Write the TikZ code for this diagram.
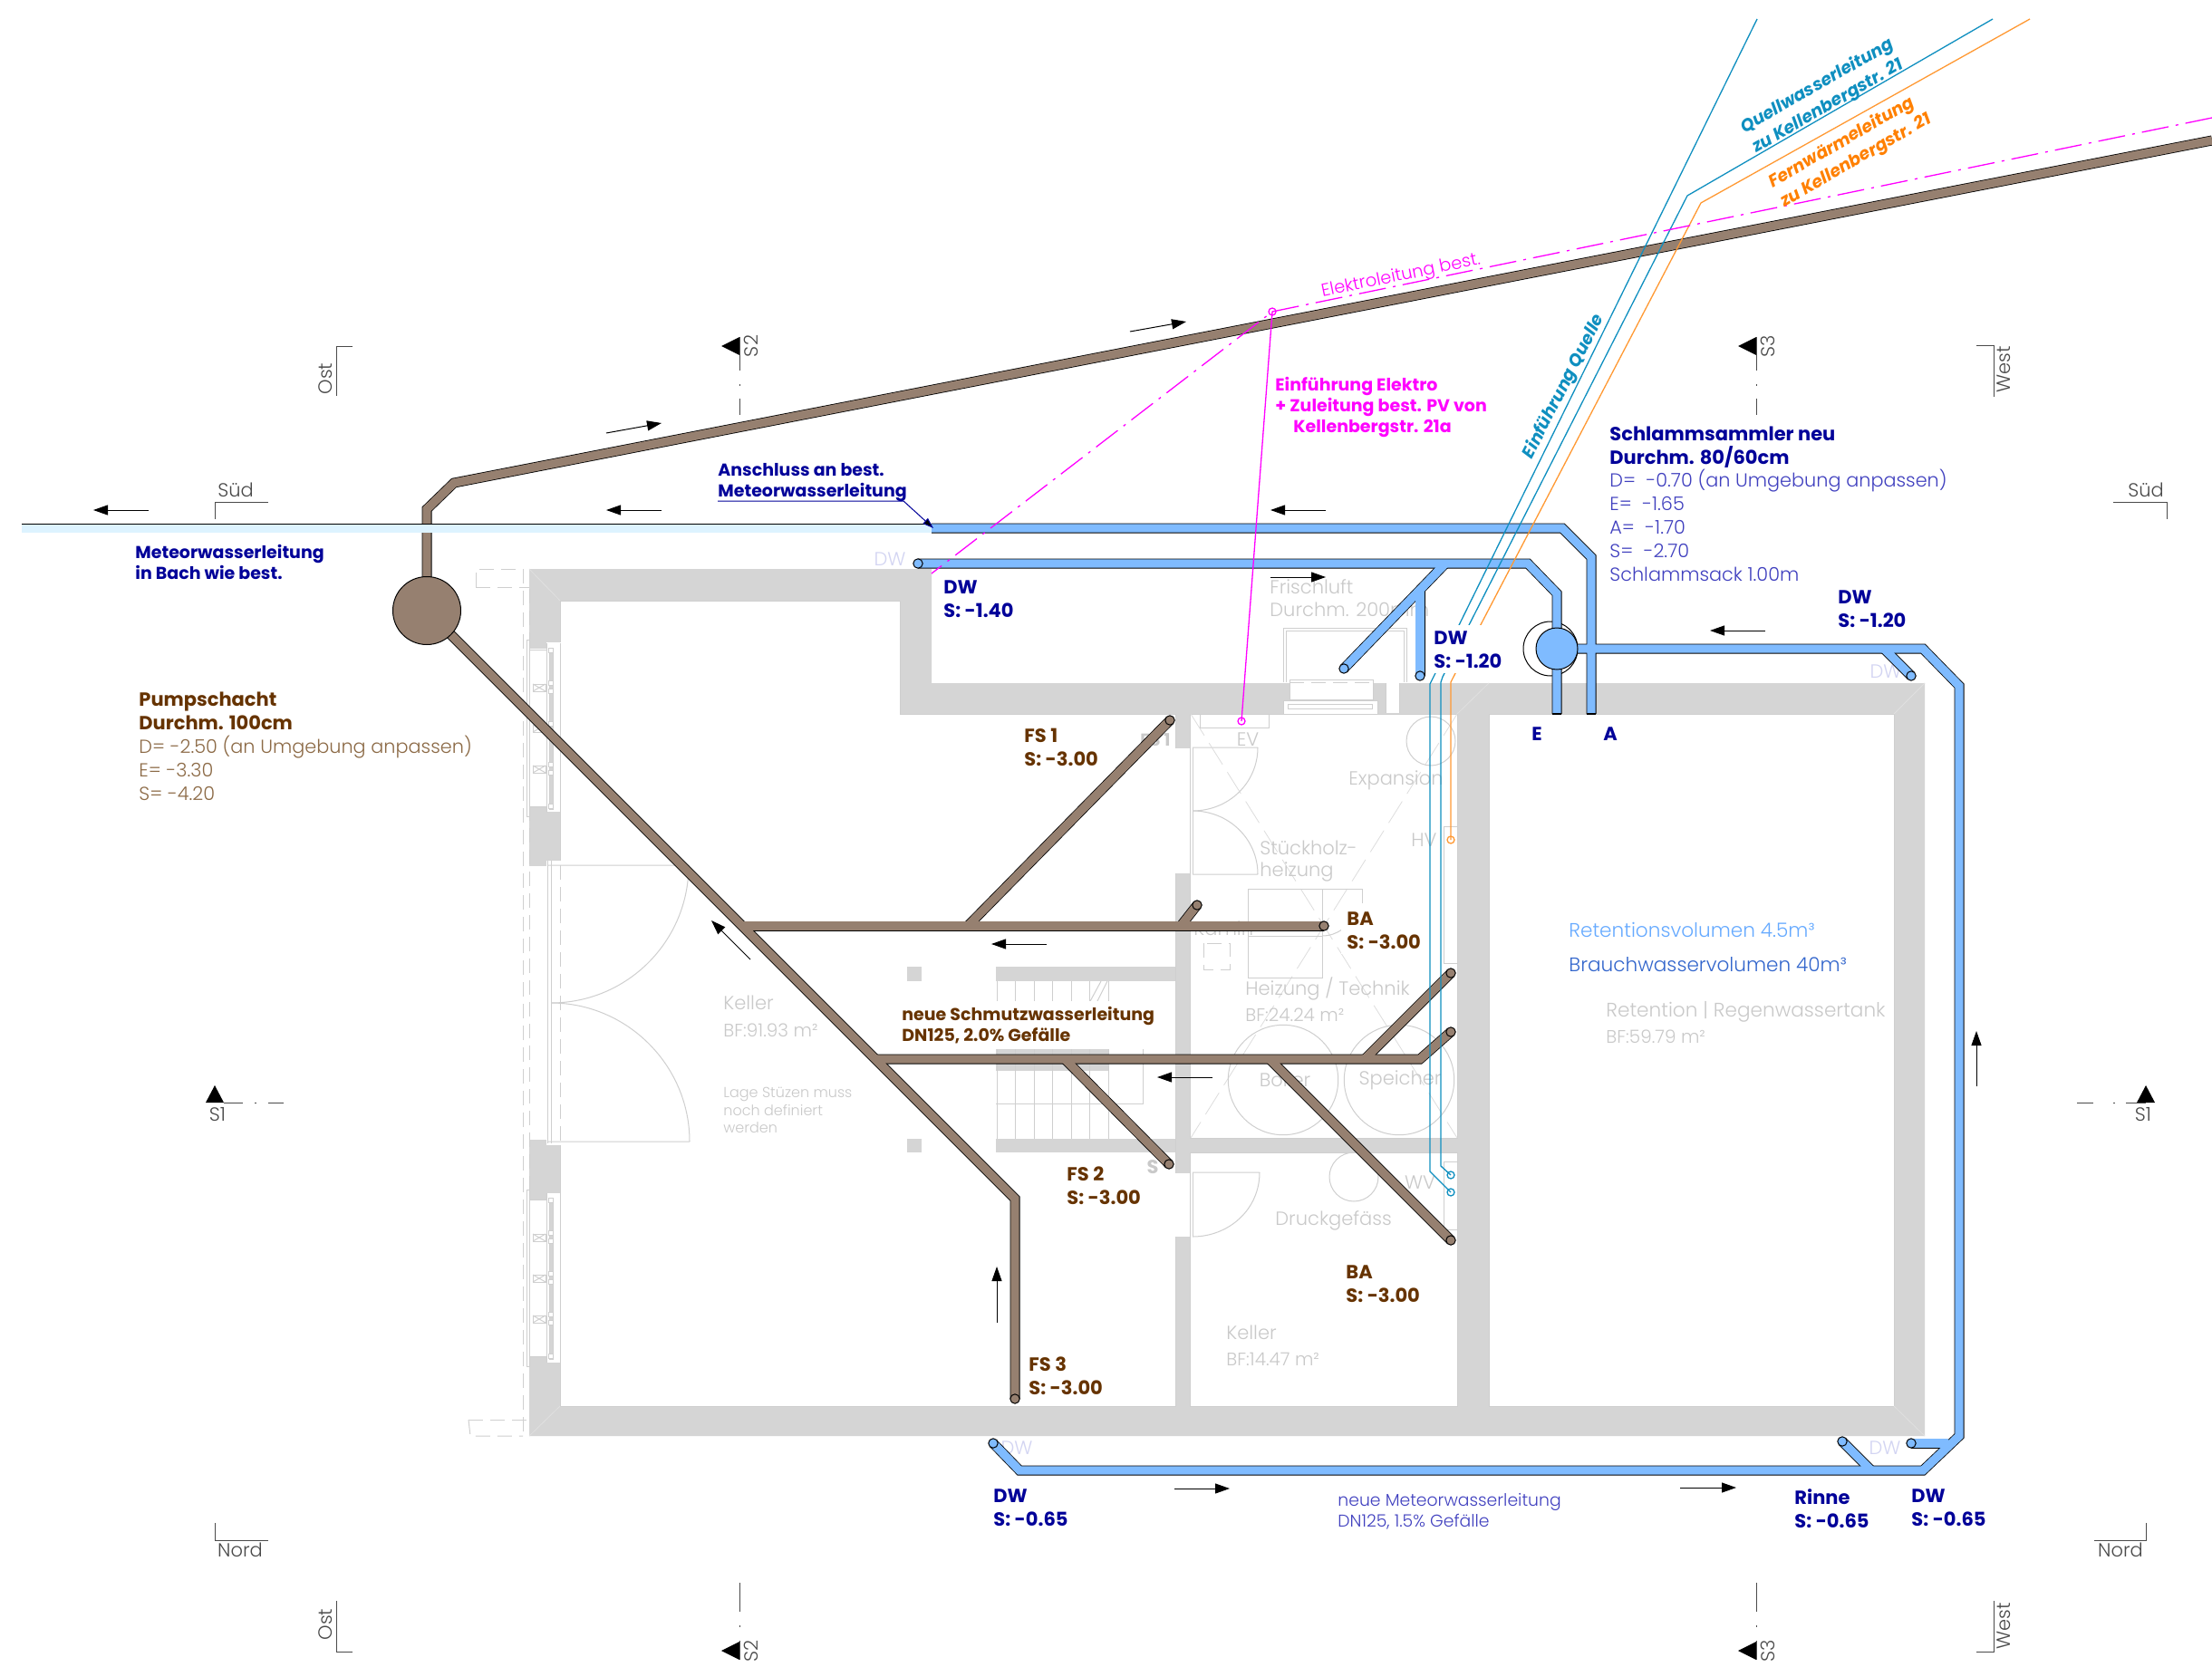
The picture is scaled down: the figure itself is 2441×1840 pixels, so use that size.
\documentclass[tikz,border=0pt]{standalone}
\usepackage{fontspec}
\setmainfont{Poppins Light}[BoldFont={Poppins Bold},ItalicFont={Poppins Light Italic},BoldItalicFont={Poppins Bold Italic}]
\usetikzlibrary{arrows.meta}
\definecolor{wall}{HTML}{D5D5D5}
\definecolor{fineg}{HTML}{CFCFCF}
\definecolor{txtg}{HTML}{C9C9C9}
\definecolor{pbrown}{HTML}{968070}
\definecolor{pblue}{HTML}{7FBBFF}
\definecolor{pband}{HTML}{DDF3FF}
\definecolor{navy}{HTML}{000099}
\definecolor{violet}{HTML}{4040BF}
\definecolor{dbrown}{HTML}{663300}
\definecolor{lbrown}{HTML}{8C6A46}
\definecolor{teal}{HTML}{0F8FC0}
\definecolor{orng}{HTML}{FF9933}
\definecolor{orngt}{HTML}{FF8000}
\definecolor{magt}{HTML}{FF00FF}
\definecolor{lav}{HTML}{D2D4F2}
\definecolor{secg}{HTML}{4A4A4A}
\definecolor{retblue}{HTML}{66AAFF}
\definecolor{brblue}{HTML}{3366CC}
\newcommand{\quartarc}[6]{(#1,#2) .. controls (#3) and (#4) .. (#5,#6)}
\newcommand{\fz}[1]{\fontsize{#1}{13}\selectfont}
\tikzset{
  fine/.style={draw=fineg,line width=0.5pt},
  fined/.style={draw=fineg,line width=0.5pt,dash pattern=on 8pt off 4pt},
  casebrown/.style={draw=black,line width=5.5pt},
  fillbrown/.style={draw=pbrown,line width=4.7pt},
  caseblue/.style={draw=black,line width=5.5pt},
  fillblue/.style={draw=pblue,line width=4.7pt},
  endbrown/.style={draw=black,fill=pbrown,line width=0.5pt},
  endblue/.style={draw=black,fill=pblue,line width=0.5pt},
  flow/.style={draw=black,line width=0.5pt,-{Triangle[length=8pt,width=5.5pt]}},
  sec/.style={draw=secg,line width=0.5pt},
  sectxt/.style={text=secg,inner sep=0,font=\fz{10.5}},
  lbl/.style={inner sep=0,anchor=north west,align=left,font=\fz{10.5}\bfseries},
  lbls/.style={inner sep=0,anchor=north west,align=left,font=\fontsize{9.5}{11.5}\selectfont\bfseries},
  thin lbl/.style={inner sep=0,anchor=north west,align=left,font=\fz{10.4}},
  gtx/.style={inner sep=0,text=txtg,align=left,font=\fz{10.5}},
  masked/.style={fill=white,inner sep=3pt},
  srcl/.style={draw=teal,line width=0.65pt},
  orgl/.style={draw=orng,line width=0.65pt},
  magl/.style={draw=magt,line width=0.65pt},
}
\begin{document}
\begin{tikzpicture}[x=0.5pt,y=-0.5pt]
\useasboundingbox (0,0) rectangle (2441,1840);
\fill[white] (0,0) rectangle (2441,1840);

% ---- walls
\fill[wall] (584,628) -- (1028,628) -- (1028,754) -- (2124,754) -- (2124,1585) -- (584,1585) -- cycle;
\filldraw[fill=white,draw=fineg,line width=0.5pt] (618,663) -- (993,663) -- (993,788) -- (1297,788) -- (1297,1552) -- (618,1552) -- cycle;
\filldraw[fill=white,draw=fineg,line width=0.5pt] (1313,788) rectangle (1608,1256);
\filldraw[fill=white,draw=fineg,line width=0.5pt] (1313,1272) rectangle (1608,1552);
\filldraw[fill=white,draw=fineg,line width=0.5pt] (1643,788) rectangle (2090,1552);
\fill[white] (1296,826) rectangle (1314,964);
\fill[white] (1296,1295) rectangle (1314,1365);
\fill[wall] (1099,1067) rectangle (1297,1083);
\fill[wall] (1099,1257) rectangle (1297,1272);
\fill[wall] (1099,1158) rectangle (1223,1182);
\fill[wall] (1001,1067) rectangle (1017,1083);
\fill[wall] (1001,1257) rectangle (1017,1272);
\draw[draw=white!88!black,line width=0.4pt] (584,628) -- (618,663) (584,1585) -- (618,1552) (2124,754) -- (2090,788) (2124,1585) -- (2090,1552) (1608,788) -- (1643,754);
% openings in the left wall
\fill[white] (584,716) rectangle (603,890);
\fill[white] (603,709) rectangle (618.5,896);
\fill[white] (584,956) rectangle (603,1258);
\fill[white] (603,950) rectangle (618.5,1264);
\fill[white] (584,1324) rectangle (603,1497);
\fill[white] (603,1317) rectangle (618.5,1504);

% ---- window details
\foreach \dy in {0,-607}{
  \draw[fine] (581,{1313+\dy}) rectangle (584,{1508+\dy});
  \draw[fine] (603,{1317+\dy}) -- (603,{1504+\dy}) (618,{1317+\dy}) -- (618,{1504+\dy});
  \draw[fine] (584,{1324+\dy}) -- (603,{1324+\dy}) (584,{1497+\dy}) -- (603,{1497+\dy});
  \filldraw[fill=wall,draw=fineg,line width=0.4pt] (606,{1322+\dy}) rectangle (610,{1500+\dy});
  \foreach \yy in {1362,1407,1452}{
    \draw[fine] (588,{\yy+\dy}) rectangle (602,{\yy+8+\dy});
    \draw[fine] (588,{\yy+\dy}) -- (602,{\yy+8+\dy}) (588,{\yy+8+\dy}) -- (602,{\yy+\dy});
  }
  \foreach \yy in {1322,1358,1367,1403,1412,1448,1457,1494}{
    \filldraw[fill=white,draw=fineg,line width=0.4pt] (605,{\yy+\dy}) rectangle (610,{\yy+5+\dy});
  }
}
% dashed outlines
\draw[fined] (525,648) -- (525,628) -- (577,628);
\draw[fined] (525,648) -- (584,648);
\draw[fined] (577,628) -- (577,1585);
\draw[fined] (584,650) -- (584,1320);
\draw[fined] (517,1567) -- (519,1585) -- (577,1585);
\draw[fined] (517,1567) -- (584,1567);
\draw[fined] (618,955) -- (618,1260);

% double door, left
\draw[fine] (604,950) -- (604,1262) (608,950) -- (608,1262);
\draw[fine] (604,955) -- (760,955) \quartarc{760}{955}{760,1039}{692,1107}{608}{1107};
\draw[fine] (604,1260) -- (761,1260) \quartarc{761}{1260}{761,1176}{692,1107}{608}{1107};
% double door, technik
\draw[fine] (1313,825) -- (1313,965) (1316,825) -- (1316,965);
\draw[fine] (1316,825) -- (1388,825) \quartarc{1388}{825}{1388,864}{1356,895}{1316}{895};
\draw[fine] (1316,965) -- (1388,965) \quartarc{1388}{965}{1388,926}{1356,895}{1316}{895};
% door, lower room
\draw[fine] (1313,1294) -- (1313,1365) (1316,1294) -- (1316,1365);
\draw[fine] (1316,1294) -- (1390,1294) \quartarc{1390}{1294}{1390,1335}{1356,1365}{1316}{1365};

% stairs
\foreach \xx in {1100,1120,1141,1161,1182,1202,1223}{\draw[fine] (\xx,1083) -- (\xx,1257);}
\draw[fine] (1099,1218) -- (1261,1218) -- (1261,1153);
\draw[fine] (1202,1107) -- (1215,1083) (1210,1107) -- (1222,1083);

% technik room fixtures
\draw[fineg!70,line width=0.4pt,dash pattern=on 14pt off 5pt] (1314,788) -- (1608,1256) (1608,788) -- (1314,1256);
\draw[fine] (1377,981) rectangle (1459,1079);
\draw[fine] (1377,1033) -- (1459,1033) (1459,981) -- (1503,981) -- (1503,997);
\draw[fine] (1459,1033) .. controls (1468,1033) and (1475,1030) .. (1481,1026);
\draw[fined] (1328,1041) rectangle (1357,1070);
\draw[fine] (1416,1192) circle[radius=60.7];
\draw[fine] (1544,1192) circle[radius=60.7];
\draw[fine] (1494,1299) circle[radius=27];
\draw[fine] (1579,818) circle[radius=27];
\draw[fine] (1608,912) -- (1593,912) -- (1593,1063) -- (1608,1063);
\draw[fine] (1608,1282) -- (1593,1282) -- (1593,1357) -- (1608,1357);
% air intake
\draw[fine] (1416,753) -- (1416,693) -- (1552,693) -- (1552,753) (1419,753) -- (1419,696) -- (1549,696) -- (1549,753);
\filldraw[fill=white,draw=fineg,line width=0.4pt] (1423,750) rectangle (1515,772);
\draw[fined,draw=fineg] (1423,753) -- (1515,753);
\filldraw[fill=white,draw=fineg,line width=0.4pt] (1416,773) rectangle (1520,788);
\draw[fine] (1421,777) rectangle (1514,782);
\fill[white] (1529,754) rectangle (1544,787);
\draw[fine] (1529,754) -- (1529,787) (1544,754) -- (1544,787);
\draw[fine] (1324,788) -- (1324,803) -- (1400,803) -- (1400,788);

% grey room texts
\node[gtx,anchor=west] (tkeller) at (798,1107) {Keller};
\node[gtx,anchor=west,font=\fz{10}] (tkellerbf) at (798,1137) {BF:91.93 m²};
\node[gtx,anchor=north west,font=\fontsize{8}{9.6}\selectfont] (tstuetz) at (798,1200) {Lage Stüzen muss\\noch definiert\\werden};
\node[gtx,anchor=west] (tfrisch) at (1401,648) {Frischluft};
\node[gtx,anchor=west] (tfrisch2) at (1401,673) {Durchm. 200mm};
\node[gtx] (tev) at (1377,816) {EV};
\node[gtx,anchor=west] (texp) at (1488,861) {Expansion};
\node[gtx,anchor=west] (tsth) at (1390,936) {Stückholz-};
\node[gtx,anchor=west] (tsth2) at (1390,962) {heizung};
\node[gtx,anchor=west] (thv) at (1557,927) {HV};
\node[gtx,anchor=west] (tkamin) at (1317,1025) {Kamin};
\node[gtx,anchor=west] (theiz) at (1374,1091) {Heizung / Technik};
\node[gtx,anchor=west,font=\fz{10}] (theizbf) at (1374,1120) {BF:24.24 m²};
\node[gtx] (tboiler) at (1418,1192) {Boiler};
\node[gtx] (tspeicher) at (1545,1192) {Speicher};
\node[gtx] (twv) at (1567,1305) {WV};
\node[gtx,anchor=west] (tdruck) at (1407,1347) {Druckgefäss};
\node[gtx,anchor=west] (tkeller2) at (1353,1471) {Keller};
\node[gtx,anchor=west,font=\fz{10}] (tkeller2bf) at (1353,1500) {BF:14.47 m²};
\node[gtx,anchor=west,font=\fz{10.8}] (tret) at (1772,1117) {Retention | Regenwassertank};
\node[gtx,anchor=west,font=\fz{10}] (tretbf) at (1772,1144) {BF:59.79 m²};
\node[gtx,font=\fz{9.5}\bfseries] (tgfs1) at (1275,817) {FS 1};
\node[gtx,font=\fz{10.5}\bfseries] (tgs) at (1272,1288) {S};
\node[gtx,text=lav] (tdw1) at (982,617) {DW};
\node[gtx,text=lav] (tdw2) at (2081,741) {DW};
\node[gtx,text=lav] (tdw3) at (2080,1598) {DW};
\node[gtx,text=lav] (tdw4) at (1122,1598) {DW};

% ---- section marks
\draw[sec] (389,383) -- (371,383) -- (371,437);
\node[sectxt,rotate=90] (ost1) at (359,418) {Ost};
\draw[sec] (371,1767) -- (371,1823) -- (389,1823);
\node[sectxt,rotate=90] (ost2) at (359,1793) {Ost};
\draw[sec] (2181,382) -- (2200,382) -- (2200,438);
\node[sectxt,rotate=90] (west1) at (2211,408) {West};
\draw[sec] (2200,1767) -- (2200,1823) -- (2181,1823);
\node[sectxt,rotate=90] (west2) at (2211,1795) {West};
\draw[sec] (237,573) -- (237,554) -- (296,554);
\node[sectxt] (sued1) at (260,541) {Süd};
\draw[sec] (2332,554) -- (2391,554) -- (2391,573);
\node[sectxt] (sued2) at (2368,541) {Süd};
\draw[sec] (237,1681) -- (237,1700) -- (296,1700);
\node[sectxt] (nord1) at (265,1711) {Nord};
\draw[sec] (2368,1681) -- (2368,1700) -- (2311,1700);
\node[sectxt] (nord2) at (2340,1711) {Nord};
% S2, S3 top and bottom
\foreach \xs/\nm in {816/S2,1938/S3}{
  \fill[black] (\xs,372) -- (\xs-20,382) -- (\xs,392) -- cycle;
  \draw[sec] (\xs,372) -- (\xs,409) (\xs,424) -- (\xs,426) (\xs,440) -- (\xs,458);
  \node[sectxt,rotate=90,anchor=center] at (\xs+13,382) {\nm};
  \fill[black] (\xs,1812) -- (\xs-20,1822) -- (\xs,1832) -- cycle;
  \draw[sec] (\xs,1747) -- (\xs,1779) (\xs,1794) -- (\xs,1796) (\xs,1811) -- (\xs,1832);
  \node[sectxt,rotate=90,anchor=center] at (\xs+13,1822) {\nm};
}
% S1
\fill[black] (227,1217) -- (237,1198) -- (247,1217) -- cycle;
\draw[sec] (247,1217) -- (268,1217) (281,1217) -- (283,1217) (296,1217) -- (313,1217);
\node[sectxt] (s1a) at (240,1230) {S1};
\fill[black] (2358,1217) -- (2368,1198) -- (2378,1217) -- cycle;
\draw[sec] (2292,1217) -- (2310,1217) (2332,1217) -- (2334,1217) (2346,1217) -- (2368,1217);
\node[sectxt] (s1b) at (2365,1230) {S1};

% ---- brown pipes
\foreach \sty in {casebrown,fillbrown}{
  \draw[\sty] (2441,155) -- (501,533) -- (471,562) -- (471,674);
  \draw[\sty] (471,674) -- (1120,1323) -- (1120,1544);
  \draw[\sty] (819,1022) -- (1461,1022);
  \draw[\sty] (1068,1022) -- (1291,795);
  \draw[\sty] (1303,1022) -- (1321,999);
  \draw[\sty] (966,1169) -- (1567,1169) -- (1601,1139);
  \draw[\sty] (1506,1169) -- (1601,1074);
  \draw[\sty] (1401,1169) -- (1601,1369);
  \draw[\sty] (1175,1169) -- (1290,1285);
}
\filldraw[endbrown] (471,674) circle[radius=37.5];
\foreach \ex/\ey in {1461/1022,1291/795,1321/999,1601/1139,1601/1074,1601/1369,1290/1285,1120/1544}{
  \filldraw[endbrown] (\ex,\ey) circle[radius=5.2];
}

% ---- existing brook line
\draw[draw=black,line width=5.2pt] (24,583) -- (1030,583);
\draw[draw=pband,line width=4.5pt] (24,583) -- (1030,583);

% ---- blue pipes
\filldraw[fill=white,draw=black,line width=0.5pt] (1711,716) circle[radius=30];
\foreach \sty in {caseblue,fillblue}{
  \draw[\sty] (1028,583) -- (1724,583) -- (1756,615) -- (1756,788);
  \draw[\sty] (1013,622) -- (1686,622) -- (1718,655) -- (1718,788);
  \draw[\sty] (1595,622) -- (1483,738);
  \draw[\sty] (1567,650) -- (1567,746);
  \draw[\sty] (1728,716) -- (2122,716) -- (2162,757) -- (2162,1585) -- (2122,1623) -- (1125,1623) -- (1096,1593);
  \draw[\sty] (2079,716) -- (2109,746);
  \draw[\sty] (2065,1623) -- (2033,1591);
  \draw[\sty] (2150,1593) -- (2109,1593);
}
\draw[black,line width=0.6pt] (1713,788) -- (1723,788) (1751,788) -- (1761,788);
\filldraw[endblue] (1718,716) circle[radius=23];
\foreach \ex/\ey in {1013/622,1483/738,1567/746,2109/746,1096/1593,2033/1591,2109/1593}{
  \filldraw[endblue] (\ex,\ey) circle[radius=5.2];
}

% ---- source and district heat lines
\draw[srcl] (1939,21) -- (1582,747) -- (1578,755) -- (1578,1293) -- (1601,1316);
\draw[srcl] (2199,21) -- (1862,216) -- (1592,747) -- (1590,753) -- (1590,1287) -- (1601,1297);
\draw[orgl] (2240,21) -- (1877,224) -- (1604,747) -- (1601,753) -- (1601,927);
\draw[teal,line width=0.65pt] (1601,1316) circle[radius=4] (1601,1297) circle[radius=4];
\draw[orng,line width=0.65pt] (1601,927) circle[radius=4];

% ---- electric
\draw[magl,dash pattern=on 15pt off 4pt on 1.5pt off 4pt] (2441,130) -- (1404,344) -- (1028,633);
\draw[magl] (1404,344) -- (1370,796);
\draw[magl] (1404,344) circle[radius=4] (1370,796) circle[radius=4];

% ---- flow arrows
\draw[flow] (164,563) -- (103,563);
\draw[flow] (730,563) -- (669,563);
\draw[flow] (1463,563) -- (1402,563);
\draw[flow] (1402,637) -- (1463,637);
\draw[flow] (1948,696) -- (1887,696);
\draw[flow] (669,478) -- (730,467);
\draw[flow] (1247,366) -- (1309,355);
\draw[flow] (1155,1042) -- (1094,1042);
\draw[flow] (1338,1189) -- (1277,1189);
\draw[flow] (828,1059) -- (785,1016);
\draw[flow] (1100,1460) -- (1100,1398);
\draw[flow] (1296,1643) -- (1357,1643);
\draw[flow] (1854,1642) -- (1916,1642);
\draw[flow] (2181,1199) -- (2181,1138);

% ---- labels
\node[thin lbl,text=magt,rotate=11.5,font=\fz{9.7},anchor=center] (lelek) at (1546,305) {Elektroleitung best.};
\node[lbls,text=magt] (leinf) at (1407,416) {Einführung Elektro\\+ Zuleitung best. PV von\\\hspace*{10pt}Kellenbergstr. 21a};
\node[lbls,text=teal,font=\fontsize{9.5}{12.5}\selectfont\bfseries\itshape,rotate=30,anchor=west] (lquell) at (1929,154) {Quellwasserleitung\\zu Kellenbergstr. 21};
\node[lbls,text=orngt,font=\fontsize{9.5}{12.5}\selectfont\bfseries\itshape,rotate=30,anchor=west] (lfern) at (1960,214) {Fernwärmeleitung\\zu Kellenbergstr. 21};
\node[lbls,text=teal,font=\fontsize{9.5}{12.5}\selectfont\bfseries\itshape,rotate=63,anchor=center] (leinq) at (1726,427) {Einführung Quelle};
\node[lbl,text=navy] (lschl) at (1776,471) {Schlammsammler neu\\Durchm. 80/60cm};
\node[thin lbl,text=violet] (lschl2) at (1776,518) {D=\ \ -0.70 (an Umgebung anpassen)\\[0pt]E=\ \ -1.65\\A=\ \ -1.70\\S=\ \ -2.70\\Schlammsack 1.00m};
\node[lbls,text=navy] (lansch) at (792,511) {Anschluss an best.\\Meteorwasserleitung};
\coordinate (lanschend) at (997,553);
\coordinate (lanschstart) at (792,553);
\draw[navy,line width=0.5pt,-{Triangle[length=6pt,width=4pt,fill=black]}] (lanschstart) -- (lanschend) -- (1030,583);
\node[lbls,text=navy] (lbach) at (149,601) {Meteorwasserleitung\\in Bach wie best.};
\node[lbl,text=navy] (ldw1) at (1041,640) {DW\\S: -1.40};
\node[lbl,text=navy,masked,anchor=north west] (ldw2) at (1576,690) {DW\\S: -1.20};
\node[lbl,text=navy] (ldw3) at (2028,651) {DW\\S: -1.20};
\node[lbl,text=navy,anchor=center] (le) at (1696,810) {E};
\node[lbl,text=navy,anchor=center] (la) at (1777,810) {A};
\node[lbl,text=dbrown] (lpump) at (153,764) {Pumpschacht\\Durchm. 100cm};
\node[thin lbl,text=lbrown] (lpump2) at (153,812) {D= -2.50 (an Umgebung anpassen)\\E= -3.30\\S= -4.20};
\node[lbl,text=dbrown,masked] (lfs1) at (1124,798) {FS 1\\S: -3.00};
\node[lbl,text=dbrown,masked] (lba1) at (1480,1000) {BA\\S: -3.00};
\node[lbls,text=dbrown,masked] (lneu) at (989,1105) {neue Schmutzwasserleitung\\DN125, 2.0\% Gefälle};
\node[lbl,text=dbrown,masked] (lfs2) at (1171,1281) {FS 2\\S: -3.00};
\node[lbl,text=dbrown,masked] (lfs3) at (1129,1491) {FS 3\\S: -3.00};
\node[lbl,text=dbrown,masked] (lba2) at (1479,1390) {BA\\S: -3.00};
\node[lbl,text=navy] (ldw4) at (1096,1643) {DW\\S: -0.65};
\node[lbl,text=navy] (lrinne) at (1980,1643) {Rinne\\S: -0.65};
\node[lbl,text=navy] (ldw5) at (2109,1643) {DW\\S: -0.65};
\node[thin lbl,text=violet,font=\fontsize{9.4}{11.5}\selectfont] (lneum) at (1476,1648) {neue Meteorwasserleitung\\DN125, 1.5\% Gefälle};
\node[thin lbl,text=retblue,font=\fz{10.8},anchor=west] (lret) at (1731,1026) {Retentionsvolumen 4.5m³};
\node[thin lbl,text=brblue,font=\fz{10.8},anchor=west] (lbrauch) at (1731,1065) {Brauchwasservolumen 40m³};
\end{tikzpicture}
\end{document}
